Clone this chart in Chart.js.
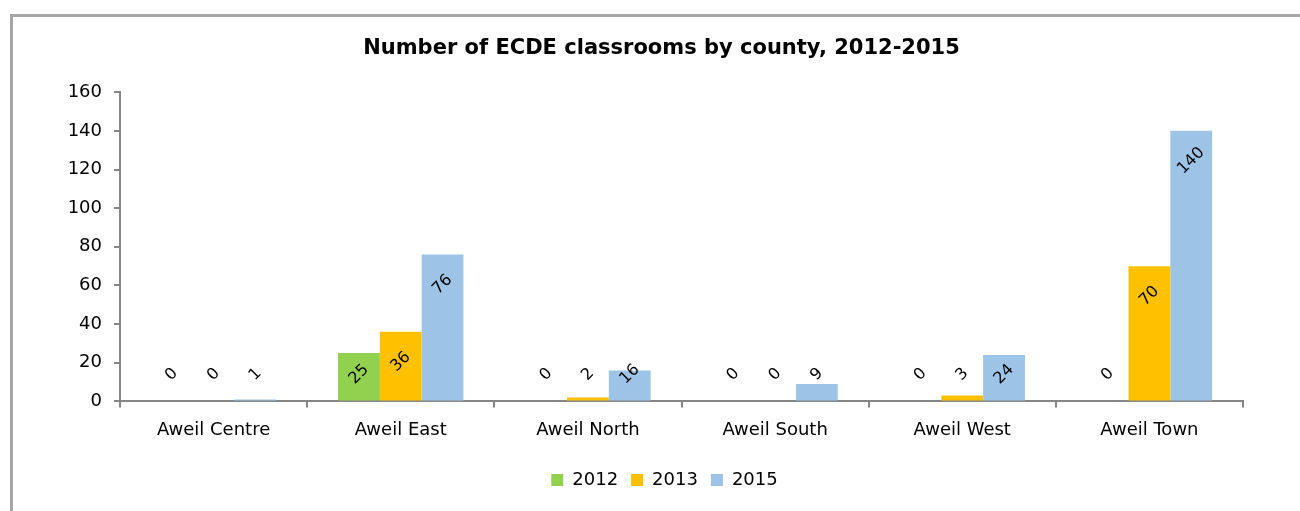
<!DOCTYPE html>
<html>
<head>
<meta charset="utf-8">
<script src="https://cdn.jsdelivr.net/npm/chart.js@4/dist/chart.umd.min.js"></script>
<style>
  html, body { margin: 0; padding: 0; background: #fff; overflow: hidden; }
  #chart { display: block; }
</style>
</head>
<body>
<canvas id="chart" width="1300" height="511"></canvas>
<script>
const categories = ["Aweil Centre", "Aweil East", "Aweil North", "Aweil South", "Aweil West", "Aweil Town"];
const values2012 = [0, 25, 0, 0, 0, 0];
const values2013 = [0, 36, 2, 0, 3, 70];
const values2015 = [1, 76, 16, 9, 24, 140];
const yMin = 0;
const yMax = 160;
const yStep = 20;

const FONT = "'DejaVu Sans', Verdana, sans-serif";
const AXIS_COLOR = "#868686";

// Grey frame along the top and left edges of the chart
const chartFrame = {
  id: "chartFrame",
  beforeDraw(chart) {
    const { ctx } = chart;
    ctx.save();
    ctx.fillStyle = "#a6a6a6";
    ctx.fillRect(10, 14, chart.width - 10, 3);
    ctx.fillRect(10, 14, 3, chart.height - 14);
    ctx.restore();
  },
};

// Title and legend sit a bit right of the canvas centre
const shiftBlocks = {
  id: "shiftBlocks",
  afterLayout(chart) {
    const shift = (box, dx) => {
      if (!box) return;
      box.left += dx;
      box.right += dx;
    };
    shift(chart.titleBlock, 40);
    shift(chart.legend, 43);
  },
};

// Rotated value labels, placed just inside the top of each bar
const valueLabels = {
  id: "valueLabels",
  afterDatasetsDraw(chart) {
    const { ctx } = chart;
    const base = chart.scales.y.getPixelForValue(0);
    ctx.save();
    ctx.font = `16px ${FONT}`;
    ctx.fillStyle = "#000";
    ctx.textAlign = "center";
    ctx.textBaseline = "middle";
    chart.data.datasets.forEach((ds, i) => {
      chart.getDatasetMeta(i).data.forEach((bar, j) => {
        const y = Math.min(bar.y + 30, base - 27);
        ctx.save();
        ctx.translate(bar.x, y);
        ctx.rotate(-Math.PI / 4);
        ctx.fillText(String(ds.data[j]), 0, 0);
        ctx.restore();
      });
    });
    ctx.restore();
  },
};

new Chart(document.getElementById("chart"), {
  type: "bar",
  data: {
    labels: categories,
    datasets: [
      { label: "2012", data: values2012, backgroundColor: "#92d050" },
      { label: "2013", data: values2013, backgroundColor: "#ffc000" },
      { label: "2015", data: values2015, backgroundColor: "#9dc3e6" },
    ],
  },
  options: {
    responsive: false,
    animation: false,
    categoryPercentage: 0.67,
    barPercentage: 1,
    borderWidth: 0,
    layout: { padding: { left: 0, right: 57, bottom: 12 } },
    plugins: {
      title: {
        display: true,
        text: "Number of ECDE classrooms by county, 2012-2015",
        color: "#000",
        font: { family: FONT, size: 21, weight: "bold" },
        padding: { top: 36, bottom: 31 },
      },
      legend: {
        position: "bottom",
        labels: {
          color: "#000",
          font: { family: FONT, size: 18 },
          boxWidth: 12,
          boxHeight: 12,
          padding: 13,
        },
      },
      tooltip: { enabled: false },
    },
    scales: {
      x: {
        afterFit(scale) { scale.height += 5; },
        grid: { drawOnChartArea: false, tickLength: 6, color: AXIS_COLOR, lineWidth: 2 },
        border: { color: AXIS_COLOR, width: 2 },
        ticks: { color: "#000", font: { family: FONT, size: 18 }, padding: 12 },
      },
      y: {
        min: yMin,
        max: yMax,
        afterFit(scale) { scale.width = 120; },
        grid: { drawOnChartArea: false, tickLength: 6, color: AXIS_COLOR, lineWidth: 2 },
        border: { color: AXIS_COLOR, width: 2 },
        ticks: { stepSize: yStep, color: "#000", font: { family: FONT, size: 18 }, padding: 12 },
      },
    },
  },
  plugins: [chartFrame, shiftBlocks, valueLabels],
});
</script>
</body>
</html>
